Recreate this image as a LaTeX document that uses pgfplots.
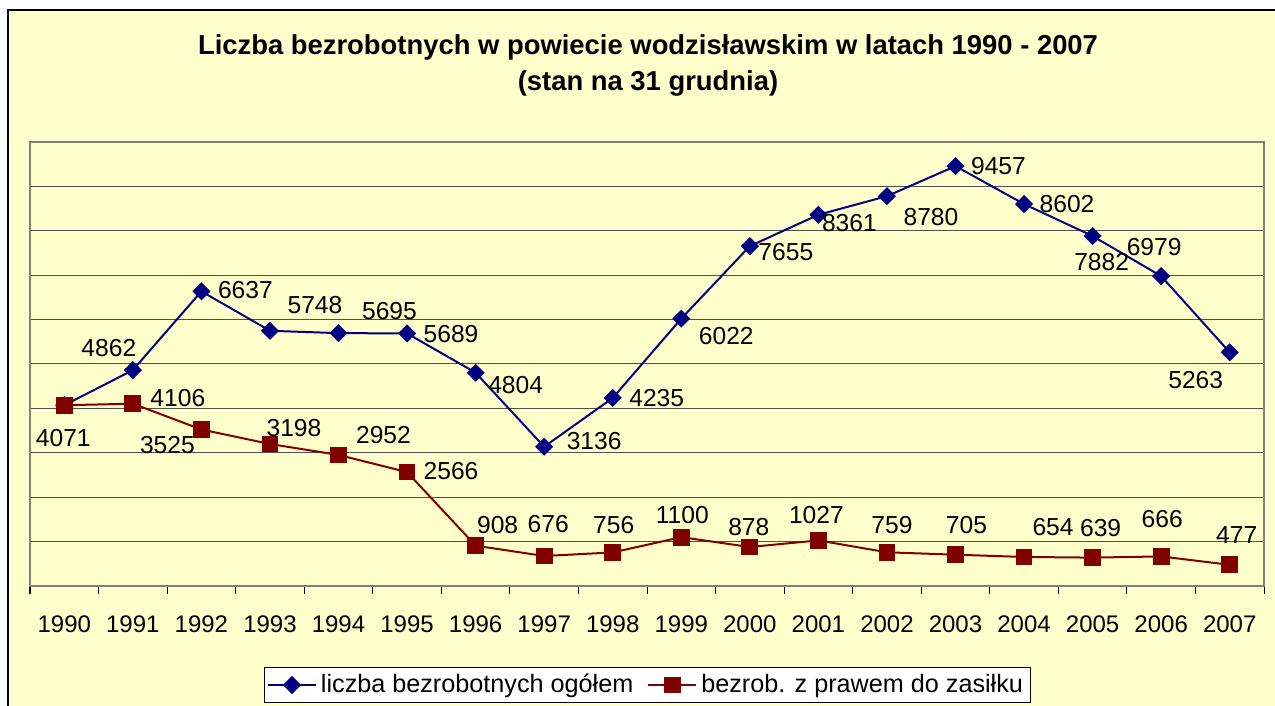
\documentclass[border=0pt]{standalone}
\usepackage{pgfplots}
\usepackage{pgfplotstable}
\pgfplotsset{compat=1.18}
\usepackage{fontspec}
\setmainfont{Liberation Sans}
\definecolor{bgyellow}{HTML}{FFFFCC}
\definecolor{navyb}{HTML}{000080}
\definecolor{maroonr}{HTML}{800000}
\definecolor{gridg}{HTML}{505050}

\pgfplotstableread{
x y dx dy lab
0 4071 -0.5 -16.5 4071
1 4862 -12 11 4862
2 6637 22 0.5 6637
3 5748 22.5 13 5748
4 5695 25.5 11 5695
5 5689 22 -0.5 5689
6 4804 20 -6 4804
7 3136 25 3 3136
8 4235 22 0 4235
9 6022 22.5 -8.5 6022
10 7655 18 -3 7655
11 8361 15.5 -4 8361
12 8780 22 -10.5 8780
13 9457 21.5 0 9457
14 8602 21.5 0 8602
15 7882 4.5 -13 7882
16 6979 -3.5 14.5 6979
17 5263 -17 -14 5263
}\bluedata

\pgfplotstableread{
x y dx dy lab
0 4071 0 0 {}
1 4106 22.5 3 4106
2 3525 -17 -8 3525
3 3198 12 8 3198
4 2952 22.5 10 2952
5 2566 22 0.5 2566
6 908 11 10.5 908
7 676 2 16 676
8 756 0.5 13.5 756
9 1100 0.5 11 1100
10 878 -0.5 10 878
11 1027 -1 12.5 1027
12 759 2.5 13.5 759
13 705 5.5 15 705
14 654 14.5 15 654
15 639 4 15 639
16 666 0.5 18.5 666
17 477 3.5 15 477
}\reddata

\begin{document}
\begin{tikzpicture}
\useasboundingbox (0,0) rectangle (637.5pt,353pt);
\clip (0,0) rectangle (637.5pt,353pt);
\draw[fill=bgyellow, draw=black, line width=0.6pt] (4pt,-10pt) rectangle (660pt,348pt);
\begin{axis}[
  at={(15pt,60pt)}, anchor=south west,
  scale only axis, width=617pt, height=222pt,
  xmin=-0.5, xmax=17.5, ymin=0, ymax=10000,
  scaled y ticks=false,
  axis background/.style={fill=bgyellow},
  axis line style={draw=gray, line width=1pt},
  xtick={0,...,17},
  xticklabels={1990,1991,1992,1993,1994,1995,1996,1997,1998,1999,2000,2001,2002,2003,2004,2005,2006,2007},
  major tick length=0pt,
  minor xtick={-0.5,0.5,...,17.5},
  minor tick length=4pt,
  tick align=outside,
  xtick pos=lower, ytick pos=left,
  minor tick style={black, line width=0.5pt},
  ytick={1000,2000,...,9000},
  yticklabels={},
  ymajorgrids,
  major grid style={draw=gridg, line width=0.5pt},
  ticklabel style={font=\fontsize{12}{14}\selectfont},
  xticklabel style={yshift=-11.5pt},
  clip=false,
  legend style={at={(0.5,-0.223)}, anchor=center, legend columns=2, draw=black, fill=white,
    font=\fontsize{12.6}{14}\selectfont, inner sep=1.5pt,
    /tikz/every even column/.append style={column sep=5pt}},
  legend image code/.code={\draw[mark repeat=2,mark phase=2,#1] plot coordinates {(0pt,0pt) (12pt,0pt) (24pt,0pt)};},
  nodes near coords,
  point meta=explicit symbolic,
  visualization depends on={\thisrow{dx}\as\dx},
  visualization depends on={\thisrow{dy}\as\dy},
  nodes near coords style={anchor=center, xshift=\dx pt, yshift=\dy pt, font=\fontsize{12.3}{14}\selectfont, text=black, inner sep=0pt},
]
\addplot[color=navyb, line width=1pt, mark=square*, mark size=2.7pt, mark options={fill=navyb, rotate=45}] table[x=x, y=y, meta=lab] {\bluedata};
\addlegendentry{liczba bezrobotnych ogółem}
\addplot[color=maroonr, line width=1pt, mark=square*, mark size=3.7pt, mark options={fill=maroonr}] table[x=x, y=y, meta=lab] {\reddata};
\addlegendentry{bezrob. z prawem do zasiłku}
\end{axis}
\node[align=center, font=\bfseries\fontsize{13.7}{18}\selectfont] at (324pt,320.5pt) {Liczba bezrobotnych w powiecie wodzisławskim w latach 1990 - 2007\\(stan na 31 grudnia)};
\end{tikzpicture}
\end{document}
